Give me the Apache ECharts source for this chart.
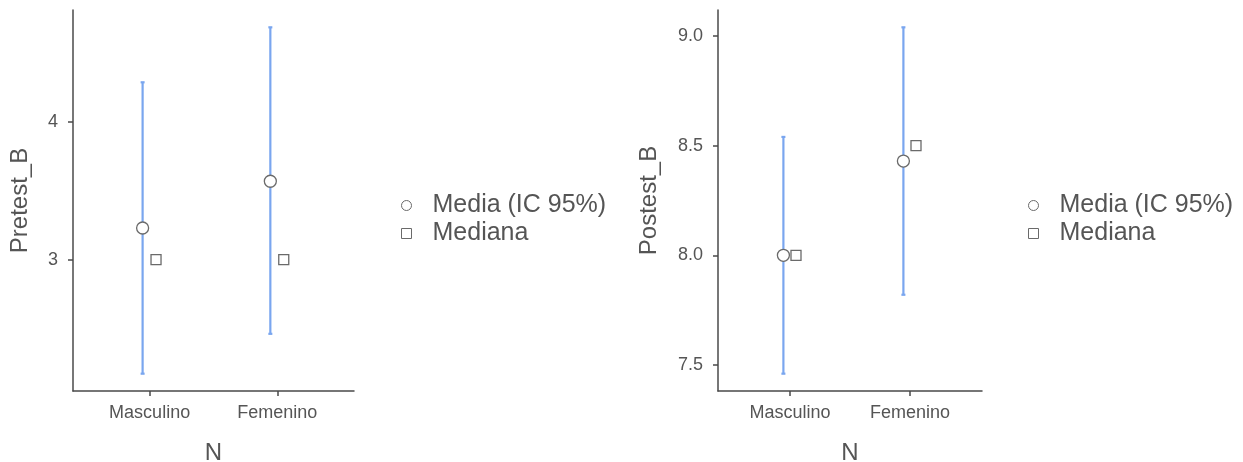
<!DOCTYPE html>
<html>
<head>
<meta charset="utf-8">
<script src="https://cdn.jsdelivr.net/npm/echarts@6/dist/echarts.min.js"></script>
<style>
  html, body { margin: 0; padding: 0; background: #fff; }
  #chart { width: 1243px; height: 462px; }
</style>
</head>
<body>
<div id="chart"></div>
<script>
// Groups on the x axis
const categories = ['Masculino', 'Femenino'];

// Pretest_B: mean with 95% CI, and median
const pretestMean = [3.23, 3.57];
const pretestLower = [2.17, 2.46];
const pretestUpper = [4.29, 4.69];
const pretestMedian = [3.0, 3.0];
const pretestTicks = [3, 4];

// Postest_B: mean with 95% CI, and median
const postestMean = [8.0, 8.43];
const postestLower = [7.46, 7.82];
const postestUpper = [8.54, 9.04];
const postestMedian = [8.0, 8.5];
const postestTicks = [7.5, 8.0, 8.5, 9.0];

const FONT = 'Liberation Sans, Arial, sans-serif';
const AXIS_COLOR = '#4a4a4a';
const BAR_COLOR = '#7aa6ef';
const MEAN_NAME = 'Media (IC 95%)';
const MEDIAN_NAME = 'Mediana';
const DODGE_MEAN = -0.055;
const DODGE_MEDIAN = 0.05;

// Axis range padded 5% beyond the extremes of the intervals
function paddedRange(lower, upper, extra) {
  const lo = Math.min(...lower, ...extra);
  const hi = Math.max(...upper, ...extra);
  const pad = (hi - lo) * 0.05;
  return [lo - pad, hi + pad];
}

function xAxisFor(gridIndex) {
  return {
    type: 'value', gridIndex, min: 0.4, max: 2.6,
    name: 'N', nameLocation: 'middle', nameGap: 50,
    nameTextStyle: { fontFamily: FONT, fontSize: 24, color: '#555' },
    splitLine: { show: false },
    axisLine: { show: true, lineStyle: { color: AXIS_COLOR, width: 1.5 } },
    axisTick: { show: true, customValues: [1, 2], length: 5, lineStyle: { color: AXIS_COLOR, width: 1.5 } },
    axisLabel: {
      customValues: [1, 2], margin: 13,
      fontFamily: FONT, fontSize: 18, color: '#555',
      formatter: v => categories[Math.round(v) - 1]
    }
  };
}

function yAxisFor(gridIndex, name, range, ticks, decimals, nameGap) {
  return {
    type: 'value', gridIndex, min: range[0], max: range[1],
    name, nameLocation: 'middle', nameGap,
    nameTextStyle: { fontFamily: FONT, fontSize: 24, color: '#555' },
    splitLine: { show: false },
    axisLine: { show: true, lineStyle: { color: AXIS_COLOR, width: 1.5 } },
    axisTick: { show: true, customValues: ticks, length: 5, lineStyle: { color: AXIS_COLOR, width: 1.5 } },
    axisLabel: {
      customValues: ticks, margin: 15,
      fontFamily: FONT, fontSize: 18, color: '#555',
      formatter: v => Number(v).toFixed(decimals)
    }
  };
}

function errorBarSeries(idx, lower, upper) {
  return {
    type: 'custom', xAxisIndex: idx, yAxisIndex: idx, silent: true, z: 2,
    data: categories.map((c, i) => [i + 1 + DODGE_MEAN, lower[i], upper[i]]),
    renderItem: (params, api) => {
      const x = api.value(0);
      const lo = api.coord([x, api.value(1)]);
      const hi = api.coord([x, api.value(2)]);
      const cap = 2;
      const style = { stroke: BAR_COLOR, lineWidth: 2.2 };
      return {
        type: 'group',
        children: [
          { type: 'line', shape: { x1: lo[0], y1: lo[1], x2: hi[0], y2: hi[1] }, style },
          { type: 'line', shape: { x1: lo[0] - cap, y1: lo[1], x2: lo[0] + cap, y2: lo[1] }, style },
          { type: 'line', shape: { x1: hi[0] - cap, y1: hi[1], x2: hi[0] + cap, y2: hi[1] }, style }
        ]
      };
    }
  };
}

function pointSeries(idx, name, values, dodge, symbol, size) {
  return {
    type: 'scatter', name, xAxisIndex: idx, yAxisIndex: idx, z: 3,
    symbol, symbolSize: size,
    itemStyle: { color: '#fff', borderColor: '#6a6a6a', borderWidth: 1.3, opacity: 1 },
    data: values.map((v, i) => [i + 1 + dodge, v])
  };
}

function legendFor(left) {
  return {
    orient: 'vertical', left, top: 193, padding: 0,
    itemWidth: 10, itemHeight: 10, itemGap: 3,
    selectedMode: false,
    textStyle: { fontFamily: FONT, fontSize: 25, color: '#555', lineHeight: 24, padding: [0, 0, 0, 16] },
    data: [
      { name: MEAN_NAME, icon: 'circle', itemStyle: { color: '#fff', borderColor: '#6a6a6a', borderWidth: 1 } },
      { name: MEDIAN_NAME, icon: 'rect', itemStyle: { color: '#fff', borderColor: '#6a6a6a', borderWidth: 1 } }
    ]
  };
}

const preRange = paddedRange(pretestLower, pretestUpper, pretestMedian);
const postRange = paddedRange(postestLower, postestUpper, postestMedian);

const chart = echarts.init(document.getElementById('chart'), null, { renderer: 'canvas' });
chart.setOption({
  animation: false,
  backgroundColor: '#fff',
  grid: [
    { left: 73, top: 10, width: 281, height: 381, outerBoundsMode: 'none', containLabel: false },
    { left: 718, top: 10, width: 264, height: 381, outerBoundsMode: 'none', containLabel: false }
  ],
  xAxis: [xAxisFor(0), xAxisFor(1)],
  yAxis: [
    yAxisFor(0, 'Pretest_B', preRange, pretestTicks, 0, 41),
    yAxisFor(1, 'Postest_B', postRange, postestTicks, 1, 57)
  ],
  legend: [legendFor(401), legendFor(1028)],
  series: [
    errorBarSeries(0, pretestLower, pretestUpper),
    pointSeries(0, MEAN_NAME, pretestMean, DODGE_MEAN, 'circle', 12),
    pointSeries(0, MEDIAN_NAME, pretestMedian, DODGE_MEDIAN, 'rect', 10),
    errorBarSeries(1, postestLower, postestUpper),
    pointSeries(1, MEAN_NAME, postestMean, DODGE_MEAN, 'circle', 12),
    pointSeries(1, MEDIAN_NAME, postestMedian, DODGE_MEDIAN, 'rect', 10)
  ]
});
</script>
</body>
</html>
